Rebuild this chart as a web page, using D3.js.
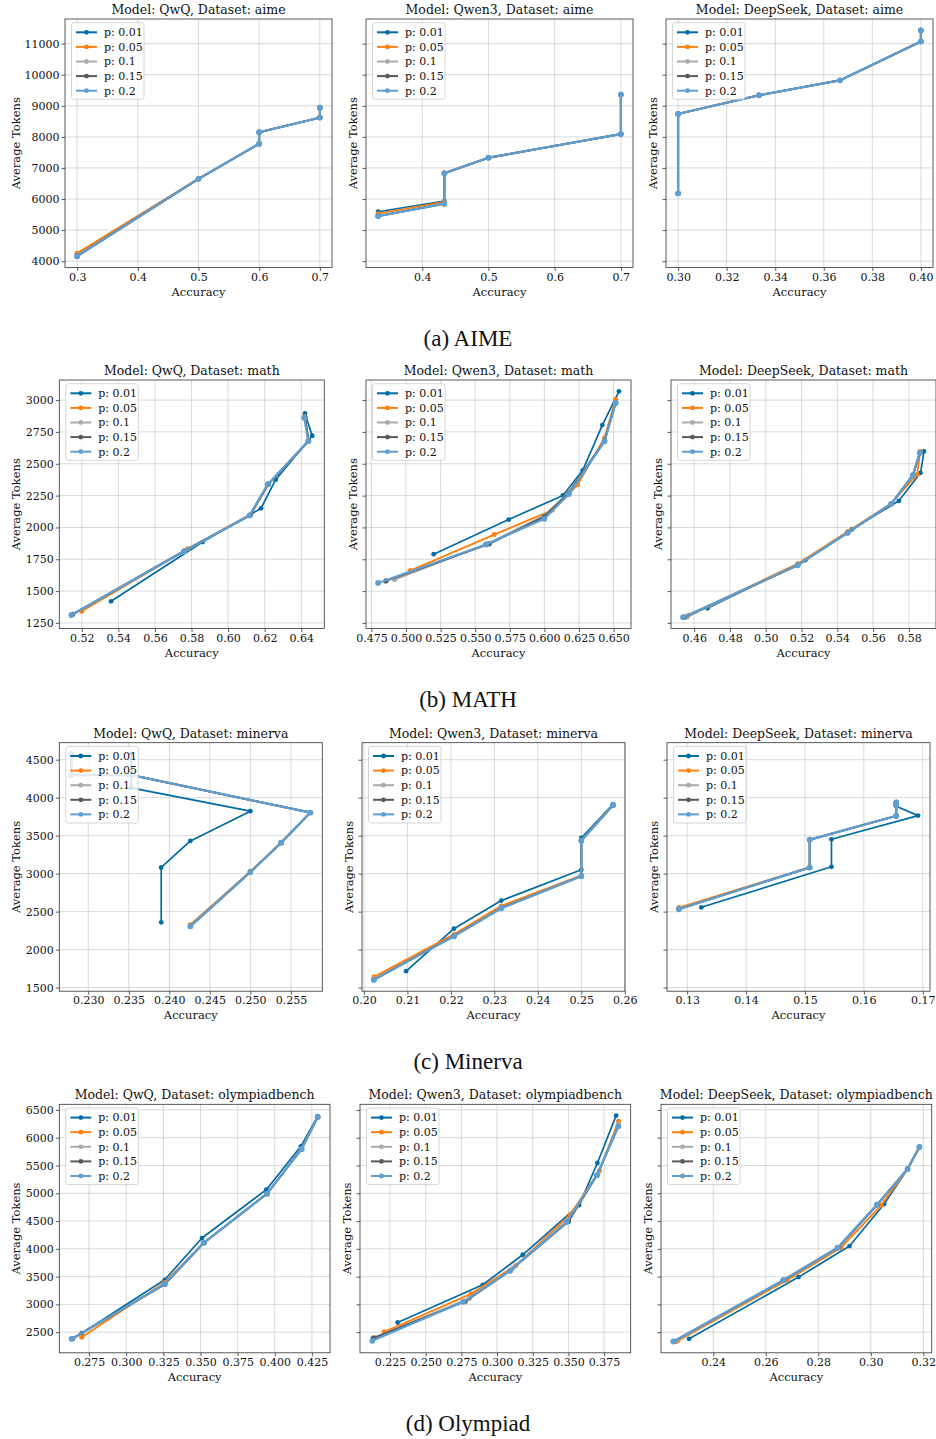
<!DOCTYPE html>
<html><head><meta charset="utf-8">
<script src="https://cdn.jsdelivr.net/npm/d3@7"></script>
<style>body{margin:0;background:#fff}</style></head><body>
<svg id="c" width="936" height="1439"></svg>
<script>
// ---------------- DATA ----------------
const models = ["QwQ", "Qwen3", "DeepSeek"];
const datasets = ["aime", "math", "minerva", "olympiadbench"];
const captions = ["(a) AIME", "(b) MATH", "(c) Minerva", "(d) Olympiad"];
const seriesLabels = ["p: 0.01", "p: 0.05", "p: 0.1", "p: 0.15", "p: 0.2"];

// each subplot: accuracy (x) and tokens (y) for the five series
const aime_QwQ_acc = [
  [0.3, 0.5, 0.6, 0.6, 0.7, 0.7], [0.3, 0.5, 0.6, 0.6, 0.7, 0.7], [0.3, 0.5, 0.6, 0.6, 0.7, 0.7],
  [0.3, 0.5, 0.6, 0.6, 0.7, 0.7], [0.3, 0.5, 0.6, 0.6, 0.7, 0.7]];
const aime_QwQ_tok = [
  [4250, 6650, 7780, 8150, 8620, 8940], [4250, 6650, 7780, 8150, 8620, 8940], [4160, 6650, 7780, 8150, 8620, 8940],
  [4160, 6650, 7780, 8150, 8620, 8940], [4160, 6650, 7780, 8150, 8620, 8940]];

const aime_Qwen3_acc = [
  [0.3333, 0.4333, 0.4333, 0.5, 0.7, 0.7], [0.3333, 0.4333, 0.4333, 0.5, 0.7, 0.7], [0.3333, 0.4333, 0.4333, 0.5, 0.7, 0.7],
  [0.3333, 0.4333, 0.4333, 0.5, 0.7, 0.7], [0.3333, 0.4333, 0.4333, 0.5, 0.7, 0.7]];
const aime_Qwen3_tok = [
  [5590, 5930, 6830, 7330, 8090, 9360], [5530, 5910, 6830, 7330, 8090, 9360], [5450, 5850, 6830, 7330, 8090, 9360],
  [5450, 5850, 6830, 7330, 8090, 9360], [5450, 5850, 6830, 7330, 8090, 9360]];

const aime_DeepSeek_acc = [
  [0.3, 0.3, 0.3333, 0.3667, 0.4, 0.4], [0.3, 0.3, 0.3333, 0.3667, 0.4, 0.4], [0.3, 0.3, 0.3333, 0.3667, 0.4, 0.4],
  [0.3, 0.3, 0.3333, 0.3667, 0.4, 0.4], [0.3, 0.3, 0.3333, 0.3667, 0.4, 0.4]];
const aime_DeepSeek_tok = [
  [6180, 8740, 9340, 9820, 11070, 11430], [6180, 8740, 9340, 9820, 11070, 11430], [6180, 8740, 9340, 9820, 11070, 11430],
  [6180, 8740, 9340, 9820, 11070, 11430], [6180, 8740, 9340, 9820, 11070, 11430]];

const math_QwQ_acc = [
  [0.536, 0.586, 0.618, 0.626, 0.646, 0.642], [0.520, 0.578, 0.612, 0.622, 0.644, 0.642], [0.515, 0.576, 0.612, 0.622, 0.644, 0.642],
  [0.515, 0.576, 0.612, 0.622, 0.644, 0.642], [0.5143, 0.5758, 0.6117, 0.6217, 0.6438, 0.6416]];
const math_QwQ_tok = [
  [1420, 1885, 2150, 2375, 2720, 2895], [1342, 1832, 2100, 2340, 2680, 2870], [1318, 1815, 2095, 2340, 2678, 2865],
  [1318, 1815, 2095, 2340, 2678, 2865], [1312, 1811, 2094, 2340, 2678, 2862]];

const math_Qwen3_acc = [
  [0.520, 0.5742, 0.6134, 0.6277, 0.6419, 0.6539], [0.5031, 0.5638, 0.6057, 0.624, 0.6435, 0.6515], [0.4918, 0.5588, 0.600, 0.6175, 0.6435, 0.6515],
  [0.4855, 0.5602, 0.600, 0.6175, 0.6435, 0.6515], [0.4798, 0.5578, 0.600, 0.6178, 0.6435, 0.6515]];
const math_Qwen3_tok = [
  [1790, 2062, 2251, 2448, 2804, 3069], [1661, 1944, 2136, 2335, 2704, 3006], [1591, 1871, 2094, 2272, 2683, 2980],
  [1580, 1871, 2085, 2268, 2680, 2978], [1564, 1866, 2068, 2262, 2675, 2977]];

const math_DeepSeek_acc = [
  [0.4675, 0.5221, 0.5481, 0.5744, 0.5865, 0.5884], [0.4568, 0.5178, 0.5458, 0.5701, 0.5846, 0.5863], [0.456, 0.5178, 0.5458, 0.5701, 0.5825, 0.5861],
  [0.4545, 0.5178, 0.5458, 0.5701, 0.5822, 0.5861], [0.4538, 0.5178, 0.5458, 0.5701, 0.5822, 0.5861]];
const math_DeepSeek_tok = [
  [1365, 1743, 1984, 2209, 2429, 2597], [1310, 1714, 1968, 2188, 2416, 2597], [1297, 1705, 1960, 2186, 2412, 2590],
  [1296, 1703, 1958, 2185, 2411, 2587], [1295, 1703, 1958, 2185, 2411, 2587]];

const minerva_QwQ_acc = [
  [0.239, 0.239, 0.2426, 0.25, 0.2353, 0.2353],
  [0.2426, 0.25, 0.2538, 0.2574, 0.2353, 0.2279, 0.2279], [0.2426, 0.25, 0.2538, 0.2574, 0.2353, 0.2279, 0.2279],
  [0.2426, 0.25, 0.2538, 0.2574, 0.2353, 0.2279, 0.2279], [0.2426, 0.25, 0.2538, 0.2574, 0.2353, 0.2279, 0.2279]];
const minerva_QwQ_tok = [
  [2359, 3081, 3430, 3822, 4130, 4575],
  [2328, 3030, 3410, 3804, 4298, 4298, 4575], [2310, 3022, 3407, 3804, 4298, 4298, 4575],
  [2308, 3020, 3407, 3804, 4298, 4298, 4575], [2306, 3020, 3407, 3804, 4298, 4298, 4575]];

const minerva_Qwen3_acc = [
  [0.2097, 0.2207, 0.2316, 0.25, 0.25, 0.2573], [0.2023, 0.2207, 0.2316, 0.25, 0.25, 0.2573], [0.2023, 0.2207, 0.2316, 0.25, 0.25, 0.2573],
  [0.2023, 0.2207, 0.2316, 0.25, 0.25, 0.2573], [0.2023, 0.2207, 0.2316, 0.25, 0.25, 0.2573]];
const minerva_Qwen3_tok = [
  [1716, 2275, 2645, 3051, 3469, 3914], [1641, 2200, 2575, 2976, 3438, 3905], [1610, 2180, 2550, 2970, 3436, 3902],
  [1605, 2177, 2547, 2968, 3435, 3901], [1601, 2174, 2544, 2967, 3434, 3900]];

const minerva_DeepSeek_acc = [
  [0.1324, 0.1545, 0.1545, 0.1692, 0.1655, 0.1655], [0.1286, 0.1508, 0.1508, 0.1655, 0.1655, 0.1655], [0.1286, 0.1508, 0.1508, 0.1655, 0.1655, 0.1655],
  [0.1286, 0.1508, 0.1508, 0.1655, 0.1655, 0.1655], [0.1286, 0.1508, 0.1508, 0.1655, 0.1655, 0.1655]];
const minerva_DeepSeek_tok = [
  [2557, 3090, 3452, 3764, 3888, 3935], [2553, 3081, 3447, 3760, 3900, 3938], [2535, 3081, 3447, 3760, 3900, 3938],
  [2533, 3081, 3447, 3760, 3900, 3938], [2531, 3081, 3447, 3760, 3900, 3938]];

const olympiad_QwQ_acc = [
  [0.2700, 0.3259, 0.3510, 0.3943, 0.4176, 0.4289], [0.2700, 0.3259, 0.3523, 0.3948, 0.4181, 0.4289], [0.2640, 0.3259, 0.3523, 0.3948, 0.4181, 0.4289],
  [0.2636, 0.3259, 0.3523, 0.3948, 0.4181, 0.4289], [0.2632, 0.3260, 0.3523, 0.3948, 0.4181, 0.4289]];
const olympiad_QwQ_tok = [
  [2482, 3443, 4194, 5065, 5845, 6386], [2410, 3395, 4110, 4993, 5797, 6374], [2385, 3360, 4110, 4993, 5797, 6374],
  [2382, 3362, 4110, 4993, 5797, 6374], [2380, 3365, 4110, 4993, 5797, 6374]];

const olympiad_Qwen3_acc = [
  [0.2304, 0.2900, 0.3180, 0.3575, 0.3703, 0.3834], [0.2210, 0.2818, 0.3131, 0.3512, 0.3717, 0.3850], [0.2145, 0.2806, 0.3110, 0.3500, 0.3706, 0.3850],
  [0.2133, 0.2776, 0.3091, 0.3500, 0.3699, 0.3850], [0.2126, 0.2764, 0.3091, 0.3488, 0.3699, 0.3850]];
const olympiad_Qwen3_tok = [
  [2674, 3353, 3893, 4788, 5545, 6398], [2506, 3190, 3701, 4614, 5407, 6296], [2404, 3106, 3653, 4524, 5347, 6236],
  [2392, 3053, 3605, 4494, 5323, 6206], [2344, 3047, 3605, 4482, 5323, 6206]];

const olympiad_DeepSeek_acc = [
  [0.2308, 0.2725, 0.2919, 0.3051, 0.3140, 0.3185], [0.2263, 0.2681, 0.2887, 0.3039, 0.3140, 0.3185], [0.2255, 0.2670, 0.2877, 0.3025, 0.3140, 0.3185],
  [0.2250, 0.2668, 0.2875, 0.3024, 0.3140, 0.3185], [0.2248, 0.2666, 0.2873, 0.3023, 0.3140, 0.3185]];
const olympiad_DeepSeek_tok = [
  [2380, 3491, 4050, 4807, 5438, 5834], [2338, 3437, 4020, 4783, 5438, 5834], [2334, 3437, 4020, 4790, 5438, 5834],
  [2333, 3437, 4020, 4793, 5438, 5834], [2332, 3437, 4020, 4795, 5438, 5834]];

// tick labels
const yTickLabels = [
  ["4000", "5000", "6000", "7000", "8000", "9000", "10000", "11000"],
  ["1250", "1500", "1750", "2000", "2250", "2500", "2750", "3000"],
  ["1500", "2000", "2500", "3000", "3500", "4000", "4500"],
  ["2500", "3000", "3500", "4000", "4500", "5000", "5500", "6000", "6500"]];
const xTickLabels = [
  [["0.3", "0.4", "0.5", "0.6", "0.7"], ["0.4", "0.5", "0.6", "0.7"], ["0.30", "0.32", "0.34", "0.36", "0.38", "0.40"]],
  [["0.52", "0.54", "0.56", "0.58", "0.60", "0.62", "0.64"], ["0.475", "0.500", "0.525", "0.550", "0.575", "0.600", "0.625", "0.650"], ["0.46", "0.48", "0.50", "0.52", "0.54", "0.56", "0.58"]],
  [["0.230", "0.235", "0.240", "0.245", "0.250", "0.255"], ["0.20", "0.21", "0.22", "0.23", "0.24", "0.25", "0.26"], ["0.13", "0.14", "0.15", "0.16", "0.17"]],
  [["0.275", "0.300", "0.325", "0.350", "0.375", "0.400", "0.425"], ["0.225", "0.250", "0.275", "0.300", "0.325", "0.350", "0.375"], ["0.24", "0.26", "0.28", "0.30", "0.32"]]];

const accTable = [
  [aime_QwQ_acc, aime_Qwen3_acc, aime_DeepSeek_acc],
  [math_QwQ_acc, math_Qwen3_acc, math_DeepSeek_acc],
  [minerva_QwQ_acc, minerva_Qwen3_acc, minerva_DeepSeek_acc],
  [olympiad_QwQ_acc, olympiad_Qwen3_acc, olympiad_DeepSeek_acc]];
const tokTable = [
  [aime_QwQ_tok, aime_Qwen3_tok, aime_DeepSeek_tok],
  [math_QwQ_tok, math_Qwen3_tok, math_DeepSeek_tok],
  [minerva_QwQ_tok, minerva_Qwen3_tok, minerva_DeepSeek_tok],
  [olympiad_QwQ_tok, olympiad_Qwen3_tok, olympiad_DeepSeek_tok]];

// ---------------- STYLE / LAYOUT ----------------
const colors = ["#006BA4", "#FF800E", "#ABABAB", "#595959", "#5F9ED1"];
const lineW = [1.7, 1.9, 2.0, 2.0, 2.2];
const markR = [2.4, 2.5, 2.6, 2.6, 2.9];
const rowTop = [19, 380, 742.7, 1104.3];
const frameH = 248.5;
const rowLefts = [[65, 366, 666], [59.3, 366, 671], [59.3, 362, 667], [59.3, 360, 661]];
const rowWidths = [267, 265, 263, 270.7];
const serif = "'DejaVu Serif', serif";

const svg = d3.select("#c");
svg.append("rect").attr("width", 936).attr("height", 1439).attr("fill", "#fff");

function pad(ext) { const d = ext[1] - ext[0]; return [ext[0] - 0.05 * d, ext[1] + 0.05 * d]; }

datasets.forEach((ds, r) => {
  const allTok = tokTable[r].flat(2);
  const yDom = pad(d3.extent(allTok));
  const top = rowTop[r];
  const yTicks = yTickLabels[r].map(Number);

  models.forEach((m, c) => {
    const left = rowLefts[r][c], W = rowWidths[r];
    const accs = accTable[r][c], toks = tokTable[r][c];
    const xDom = pad(d3.extent(accs.flat()));
    const x = d3.scaleLinear().domain(xDom).range([left, left + W]);
    const y = d3.scaleLinear().domain(yDom).range([top + frameH, top]);
    const xLabels = xTickLabels[r][c];
    const xTicks = xLabels.map(Number).filter(v => v >= xDom[0] - 1e-9 && v <= xDom[1] + 1e-9);

    const g = svg.append("g");
    // grid
    g.selectAll(".gx").data(xTicks).join("line")
      .attr("x1", d => x(d)).attr("x2", d => x(d)).attr("y1", top).attr("y2", top + frameH)
      .attr("stroke", "#b0b0b0").attr("stroke-opacity", 0.6).attr("stroke-width", 0.8);
    g.selectAll(".gy").data(yTicks).join("line")
      .attr("x1", left).attr("x2", left + W).attr("y1", d => y(d)).attr("y2", d => y(d))
      .attr("stroke", "#b0b0b0").attr("stroke-opacity", 0.6).attr("stroke-width", 0.8);

    // axes
    const xa = g.append("g").attr("transform", `translate(0,${top + frameH})`)
      .call(d3.axisBottom(x).tickValues(xTicks).tickFormat(d => xLabels[xLabels.map(Number).indexOf(d)]).tickSize(3.5).tickPadding(2));
    const ya = g.append("g").attr("transform", `translate(${left},0)`)
      .call(d3.axisLeft(y).tickValues(yTicks).tickFormat(c === 0 ? (d => yTickLabels[r][yTicks.indexOf(d)]) : (() => "")).tickSize(3.5).tickPadding(2));
    [xa, ya].forEach(a => {
      a.select(".domain").remove();
      a.selectAll("line").attr("stroke", "#333").attr("stroke-width", 0.8);
      a.selectAll("text").attr("font-family", serif).attr("font-size", 11).attr("fill", "#111");
    });

    // series
    const clipId = `clip${r}${c}`;
    g.append("clipPath").attr("id", clipId).append("rect")
      .attr("x", left).attr("y", top).attr("width", W).attr("height", frameH);
    const plot = g.append("g").attr("clip-path", `url(#${clipId})`);
    accs.forEach((xs, s) => {
      const pts = xs.map((v, i) => [v, toks[s][i]]);
      plot.append("path").datum(pts)
        .attr("d", d3.line().x(d => x(d[0])).y(d => y(d[1])))
        .attr("fill", "none").attr("stroke", colors[s]).attr("stroke-width", lineW[s])
        .attr("stroke-linejoin", "round");
      plot.selectAll(null).data(pts).join("circle")
        .attr("cx", d => x(d[0])).attr("cy", d => y(d[1])).attr("r", markR[s]).attr("fill", colors[s]);
    });

    // frame
    g.append("rect").attr("x", left).attr("y", top).attr("width", W).attr("height", frameH)
      .attr("fill", "none").attr("stroke", "#333").attr("stroke-width", 0.8);

    // title and labels
    g.append("text").attr("x", left + W / 2).attr("y", top - 5).attr("text-anchor", "middle")
      .attr("font-family", serif).attr("font-size", 12.5).attr("fill", "#111")
      .text(`Model: ${m}, Dataset: ${ds}`);
    g.append("text").attr("x", left + W / 2).attr("y", top + frameH + 28).attr("text-anchor", "middle")
      .attr("font-family", serif).attr("font-size", 11.5).attr("fill", "#111").text("Accuracy");
    const ylx = c === 0 ? 16 : left - 13;
    g.append("text").attr("transform", `translate(${ylx},${top + frameH / 2}) rotate(-90)`)
      .attr("text-anchor", "middle").attr("dy", "0.35em")
      .attr("font-family", serif).attr("font-size", 11.5).attr("fill", "#111").text("Average Tokens");

    // legend
    const lg = g.append("g").attr("transform", `translate(${left + 6.5},${top + 3.7})`);
    lg.append("rect").attr("width", 72.5).attr("height", 76.6).attr("rx", 2.5)
      .attr("fill", "#fff").attr("fill-opacity", 0.8).attr("stroke", "#cccccc").attr("stroke-width", 0.8);
    seriesLabels.forEach((lab, s) => {
      const yy = 9.6 + s * 14.6;
      lg.append("line").attr("x1", 4.5).attr("x2", 25.5).attr("y1", yy).attr("y2", yy)
        .attr("stroke", colors[s]).attr("stroke-width", 2);
      lg.append("circle").attr("cx", 15).attr("cy", yy).attr("r", 2.4).attr("fill", colors[s]);
      lg.append("text").attr("x", 32.5).attr("y", yy).attr("dy", "0.35em")
        .attr("font-family", serif).attr("font-size", 11).attr("fill", "#111").text(lab);
    });
  });

  svg.append("text").attr("x", 468).attr("y", top + frameH + 78).attr("text-anchor", "middle")
    .attr("font-family", "'Liberation Serif', 'Times New Roman', serif").attr("font-size", 23).attr("fill", "#111")
    .text(captions[r]);
});
</script></body></html>
